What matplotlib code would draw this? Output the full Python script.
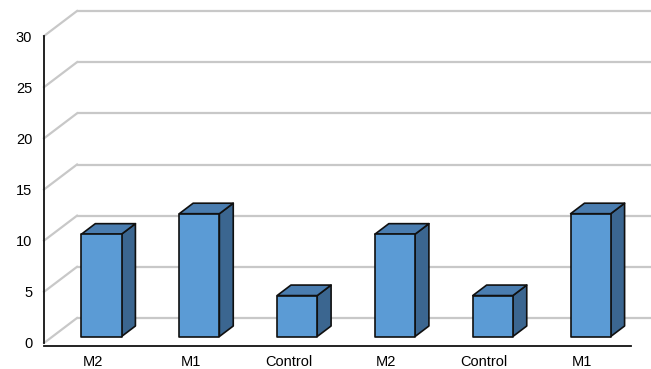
import matplotlib
matplotlib.use("Agg")
import matplotlib.pyplot as plt
from matplotlib.patches import Polygon
import numpy as np

categories = ["M2", "M1", "Control", "M2", "Control", "M1"]
values = [10, 12, 4, 10, 4, 12]
yticks = [0, 5, 10, 15, 20, 25, 30]

W, H = 651, 369
fig = plt.figure(figsize=(W / 100, H / 100), dpi=100)
plt.rcParams['font.family'] = ['Liberation Sans', 'DejaVu Sans']

# axes placement in pixels (front plane)
x0, x1 = 44, 631
ytop, ybot = 36, 343
ax = fig.add_axes([x0 / W, (H - ybot) / H, (x1 - x0) / W, (ybot - ytop) / H])
n = len(categories)
ax.set_xlim(0, n)
ax.set_ylim(0, 30)

# depth vector (full floor depth) in data units
px_per_x = (x1 - x0) / n
px_per_y = (ybot - ytop) / 30
DX = 33 / px_per_x
DY = 25 / px_per_y

grid_c = "#c8c8c8"
# figure right edge in data coordinates
xr = n + (W - x1) / px_per_x

for v in yticks:
    ax.plot([DX, xr], [v + DY, v + DY], color=grid_c, lw=1.6, clip_on=False, zorder=1,
            solid_capstyle="butt")
    ax.plot([0, DX], [v, v + DY], color=grid_c, lw=1.6, clip_on=False, zorder=1)

# bars
f1, f2 = 0.26, 0.68
bw = 0.41
front_c = "#5b9bd5"
top_c = "#4a7db0"
side_c = "#3b6690"
ec = "#101010"
for i, v in enumerate(values):
    cx = i + 0.5
    xl, xh = cx - bw / 2, cx + bw / 2
    ox1, oy1 = f1 * DX, f1 * DY
    ox2, oy2 = f2 * DX, f2 * DY
    front = [(xl + ox1, oy1), (xh + ox1, oy1), (xh + ox1, v + oy1), (xl + ox1, v + oy1)]
    side = [(xh + ox1, oy1), (xh + ox2, oy2), (xh + ox2, v + oy2), (xh + ox1, v + oy1)]
    top = [(xl + ox1, v + oy1), (xh + ox1, v + oy1), (xh + ox2, v + oy2), (xl + ox2, v + oy2)]
    for pts, c in ((side, side_c), (top, top_c), (front, front_c)):
        ax.add_patch(Polygon(pts, closed=True, facecolor=c, edgecolor=ec, lw=1.2,
                             joinstyle="round", zorder=3, clip_on=False))

for s in ("top", "right"):
    ax.spines[s].set_visible(False)
for s in ("left", "bottom"):
    ax.spines[s].set_color("#111111")
    ax.spines[s].set_linewidth(1.3)
ax.spines["bottom"].set_position(("outward", 2))
ax.set_yticks(yticks)
ax.set_xticks(np.arange(n) + 0.5)
ax.set_xticklabels(categories)
ax.tick_params(axis="both", length=0, labelsize=10.5, colors="#000000")
ax.tick_params(axis="y", pad=8.5)
ax.tick_params(axis="x", pad=6.5)
ax.patch.set_visible(False)

fig.savefig("out.png", dpi=100)
